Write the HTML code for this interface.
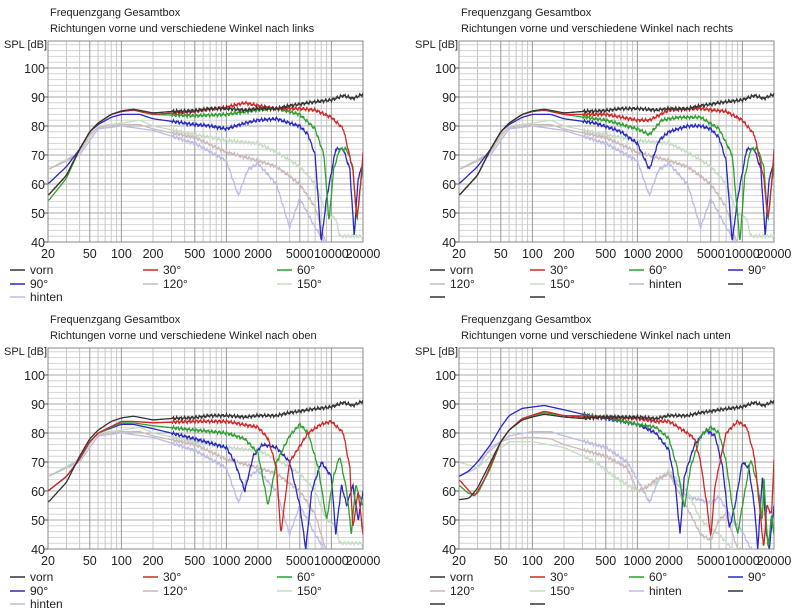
<!DOCTYPE html>
<html><head><meta charset="utf-8"><style>
body{margin:0;background:#fff;width:800px;height:615px;overflow:hidden}
svg{display:block}
text{font-family:"Liberation Sans",sans-serif;fill:#222}
</style></head><body>
<svg id="s" width="800" height="615" xmlns="http://www.w3.org/2000/svg"></svg>
<script>
const S=document.getElementById('s');let out='';
const C={vorn:'#333',a30:'#d02828',a60:'#2ea02e',a90:'#2828c0',a120:'#cbb9b9',a150:'#c6dcc6',hint:'#bcbce4'};
function panel(ox,oy,sub,curves,legend4){
 const x0=ox+48,x1=ox+363,yb=oy+242,yt=oy+41;
 const X=f=>x0+(Math.log10(f)-Math.log10(20))*105, Y=d=>yb-(d-40)*2.9;
 let g='';
 g+=`<text x="${ox+50}" y="${oy+16}" font-size="11">Frequenzgang Gesamtbox</text>`;
 g+=`<text x="${ox+50}" y="${oy+32}" font-size="11">${sub}</text>`;
 g+=`<text x="${ox+4}" y="${oy+48}" font-size="11">SPL [dB]</text>`;
 for(let d=42;d<=108;d+=2){const y=Y(d);g+=`<line x1="${x0}" x2="${x1}" y1="${y}" y2="${y}" stroke="${d%10?'#d4d4d4':'#a8a8a8'}" stroke-width="1"/>`;}
 const fs=[];for(let dec of [10,100,1000,10000])for(let k=1;k<10;k++){const f=k*dec;if(f>=20&&f<=20000)fs.push(f);}
 for(const f of fs){const x=X(f);const m=[50,100,500,1000,5000,10000].includes(f);g+=`<line x1="${x}" x2="${x}" y1="${yt}" y2="${yb}" stroke="${m?'#9a9a9a':'#c8c8c8'}"/>`;}
 g+=`<rect x="${x0}" y="${yt}" width="${x1-x0}" height="${yb-yt}" fill="none" stroke="#888"/>`;
 for(let d=40;d<=100;d+=10){const y=Y(d);g+=`<line x1="${x0-4}" x2="${x0}" y1="${y}" y2="${y}" stroke="#555"/><text x="${x0-3}" y="${y+5}" font-size="12.5" text-anchor="end">${d}</text>`;}
 for(const f of [20,50,100,200,500,1000,2000,5000,10000,20000]){g+=`<text x="${X(f)}" y="${yb+16}" font-size="12.5" text-anchor="middle">${f}</text>`;}
 const cid='c'+ox+'_'+oy;
 g+=`<clipPath id="${cid}"><rect x="${x0}" y="${yt}" width="${x1-x0}" height="${yb-yt}"/></clipPath><g clip-path="url(#${cid})">`;
 const order=['hint','a150','a120','a90','a60','a30','vorn'];
 for(const k of order){const pts=curves[k];if(!pts)continue;
  const F=[],D=[];
  for(let lf=Math.log10(20);lf<=Math.log10(20000)+1e-9;lf+=0.005){const f=Math.pow(10,lf);
   let j=0;while(j<pts.length-2&&pts[j+1][0]<f)j++;
   const a=pts[j],b=pts[j+1];let t=Math.max(0,Math.min(1,(lf-Math.log10(a[0]))/(Math.log10(b[0])-Math.log10(a[0]))));
   F.push(f);D.push(a[1]+(b[1]-a[1])*t);}
  let p='';
  for(let i=0;i<F.length;i++){let d=D[i];
   if(F[i]<300){let s=0,n=0;for(let q=-3;q<=3;q++){const r=i+q;if(r>=0&&r<D.length){s+=D[r];n++;}}d=s/n;}
   else{const lf=Math.log10(F[i]);d+=0.35*Math.sin(lf*173+k.length)+0.25*Math.sin(lf*411);}
   p+=(i?'L':'M')+X(F[i]).toFixed(1)+' '+Y(d).toFixed(1);}
  g+=`<path d="${p}" fill="none" stroke="${C[k]}" stroke-width="1.3"/>`;}
 g+='</g>';
 let names=legend4?[['vorn','vorn'],['a30','30°'],['a60','60°'],['a90','90°'],['a120','120°'],['a150','150°'],['hint','hinten'],['vorn',''],['vorn',''],['vorn','']]
  :[['vorn','vorn'],['a30','30°'],['a60','60°'],['a90','90°'],['a120','120°'],['a150','150°'],['hint','hinten']];
 const cols=legend4?[19,119,218,317]:[10,143,277],nc=cols.length,rows=[oy+270,oy+284,oy+297];
 names.forEach((n,i)=>{const cx=ox+cols[i%nc],ry=rows[Math.floor(i/nc)];
  g+=`<line x1="${cx}" x2="${cx+15}" y1="${ry}" y2="${ry}" stroke="${C[n[0]]}" stroke-width="1.5"/>`;
  if(n[1])g+=`<text x="${cx+20}" y="${ry+4}" font-size="12">${n[1]}</text>`;});
 out+=g;
}
const vornBase=[[20,56],[30,63],[40,72],[50,78],[60,81],[80,84],[100,85.2],[130,85.8],[200,84.5],[300,85],[500,85.3],[700,86],[1000,86],[1500,85.5],[2000,86],[3000,86],[4000,87],[6000,88],[10000,89],[13000,90.5],[16000,89.5],[20000,91]];
const L={vorn:vornBase,
a30:[[20,56],[30,63],[40,72],[50,78],[60,81],[80,84],[100,85],[130,85.5],[200,84],[500,85],[1000,86.5],[1500,88],[2000,87],[3000,86],[5000,86],[7000,85.5],[10000,83],[13000,79],[16000,65],[17500,48],[19000,60],[20000,71]],
a60:[[20,54],[30,62],[40,72],[50,78],[60,81],[80,84],[100,85],[130,85.5],[200,84],[500,83.5],[1000,84],[2000,85.5],[3000,86],[5000,84],[7000,79],[8500,70],[9500,47],[10500,65],[12000,72],[14000,72],[16000,66],[17500,47],[19000,60],[20000,66]],
a90:[[20,60],[30,66],[40,72],[50,78],[60,80.5],[80,83],[100,84],[150,84],[200,82.5],[500,80.5],[700,80],[1000,79],[1500,81],[2000,82],[3000,82.5],[4000,81],[5000,80],[6000,77],[7000,70],[8000,40],[9000,55],[11000,72],[13000,72],[15000,65],[16500,42],[18000,62],[20000,67]],
a120:[[20,65],[30,68],[40,71],[50,77],[60,79.5],[100,80.5],[150,80.5],[200,79],[500,76],[1000,71],[2000,68],[3000,66],[5000,60],[7000,52],[8000,45],[9000,39],[20000,38]],
a150:[[20,65],[40,71],[60,80],[100,81],[150,82],[200,80],[500,77],[1000,75],[2000,74],[3000,71],[5000,66],[7000,60],[9000,50],[11000,48],[12000,42],[20000,42]],
hint:[[20,65],[40,70],[60,79],[100,80],[200,78.5],[500,74],[1000,68],[1300,56],[1600,65],[2000,67],[3000,60],[4000,45],[5000,55],[7000,45],[9000,39],[20000,38]]};
const R=JSON.parse(JSON.stringify(L));
R.a90=[[20,60],[30,66],[40,72],[50,78],[60,80.5],[80,83],[100,84],[150,84],[200,82.5],[400,81],[700,78],[1000,74],[1300,65],[1600,75],[2000,78],[3000,80],[4000,80],[5000,79],[6000,76],[7000,68],[8000,40],[9000,55],[11000,72],[13000,72],[15000,65],[16500,42],[18000,62],[20000,67]];
R.a60=[[20,56],[30,63],[40,72],[50,78],[60,81],[80,84],[100,85],[130,85.5],[200,84],[500,82],[1000,79],[1300,77],[1700,82],[2500,83],[4000,83],[6000,79],[8000,70],[9500,40],[10500,62],[12000,72],[14000,72],[16000,66],[17500,47],[19000,60],[20000,66]];
R.a30=[[20,56],[30,63],[40,72],[50,78],[60,81],[80,84],[100,85],[130,85.5],[200,84],[500,84],[1000,82],[1300,82],[2000,85.5],[4000,86],[7000,85],[10000,82],[13000,77],[16000,62],[17500,48],[19000,60],[20000,72]];
const O={vorn:vornBase,
a30:[[20,60],[30,65],[40,71],[50,77],[60,80],[100,84],[130,84],[200,83.5],[500,84],[1000,84],[2000,82],[2500,78],[3000,68],[3300,45],[4000,70],[6000,80],[8000,83],[10000,84],[13000,80],[15000,68],[16000,47],[18000,60],[20000,45]],
a60:[[20,60],[30,65],[40,71],[50,77],[60,80],[100,83.5],[130,83.5],[200,82.5],[500,81],[1000,80],[1500,78],[2000,73],[2500,55],[3000,70],[4000,79],[5000,83],[6000,80],[7500,68],[9000,50],[10500,65],[12000,72],[14000,60],[15500,45],[17000,62],[20000,55]],
a90:[[20,60],[30,65],[40,71],[50,77],[60,80],[100,83],[130,83],[200,81.5],[500,78],[1000,75],[1200,70],[1500,60],[1800,72],[2200,76],[3000,75],[4000,70],[5000,55],[5700,40],[6500,60],[8000,70],[10000,65],[11000,45],[12500,62],[14000,55],[16000,62],[18000,50],[20000,60]],
a120:L.a120,a150:L.a150,hint:L.hint};
const U={vorn:[[20,57],[25,57.5],[30,61],[40,70],[50,77],[60,81],[80,84.5],[100,85.5],[130,86.5],[200,85.5],[300,85],[500,85.5],[700,85.5],[1000,85.5],[1500,85],[2000,86],[3000,86],[4000,87],[6000,88],[10000,89],[13000,90.5],[16000,89.5],[20000,91]],
a30:[[20,64],[25,60],[28,58],[35,64],[50,77],[60,81],[80,85],[130,87.5],[200,86],[300,85.5],[500,85.5],[1000,85],[1500,84],[2000,84],[3000,80],[3500,78],[4000,70],[4600,55],[5000,44],[5500,62],[7000,80],[9000,84],[11000,82],[13000,72],[15000,50],[16000,40],[17000,55],[19000,52],[20000,71]],
a60:[[20,62],[25,59],[30,59],[40,68],[50,77],[60,81],[80,85],[130,87],[200,86],[300,86],[500,85.5],[1000,83],[1500,82],[2000,78],[2400,68],[2800,54],[3200,68],[4000,79],[5000,82],[6000,80],[7000,70],[8000,55],[9000,45],[10000,55],[12000,71],[14000,62],[15500,50],[16000,65],[17500,40],[19000,52],[20000,45]],
a90:[[20,65],[25,67],[30,70],[40,76],[50,82],[60,86],[80,88.5],[130,89.5],[200,88],[300,86.5],[500,85],[1000,83],[1500,80],[2000,74],[2300,62],[2550,45],[2800,65],[3500,76],[4500,81],[5500,79],[6500,68],[7500,47],[8500,55],[10000,70],[11500,68],[13000,55],[14000,40],[15500,65],[17000,45],[18000,40],[20000,55]],
a120:[[20,70],[30,70],[40,74],[50,77],[60,78],[100,78.5],[150,78],[200,76],[500,72],[800,68],[1000,60],[1200,61],[1500,64],[2000,66],[3000,54],[4000,45],[5000,43],[6000,50],[7000,52],[9000,40],[20000,38]],
a150:[[20,70],[30,68],[40,72],[60,77],[100,77],[200,75],[400,70],[600,65],[1000,60],[1500,63],[2000,67],[3000,60],[4000,50],[6000,45],[8000,40],[20000,38]],
hint:[[20,65],[30,68],[40,75],[60,79],[100,80.5],[150,80.5],[200,79],[500,75],[800,70],[1000,64],[1300,56],[1600,64],[2000,66],[3000,58],[5000,56],[6000,58],[8000,50],[10000,46],[12000,40],[20000,38]]};
panel(0,0,'Richtungen vorne und verschiedene Winkel nach links',L,false);
panel(411,0,'Richtungen vorne und verschiedene Winkel nach rechts',R,true);
panel(0,307,'Richtungen vorne und verschiedene Winkel nach oben',O,false);
panel(411,307,'Richtungen vorne und verschiedene Winkel nach unten',U,true);
S.innerHTML=out;
</script>
</body></html>
